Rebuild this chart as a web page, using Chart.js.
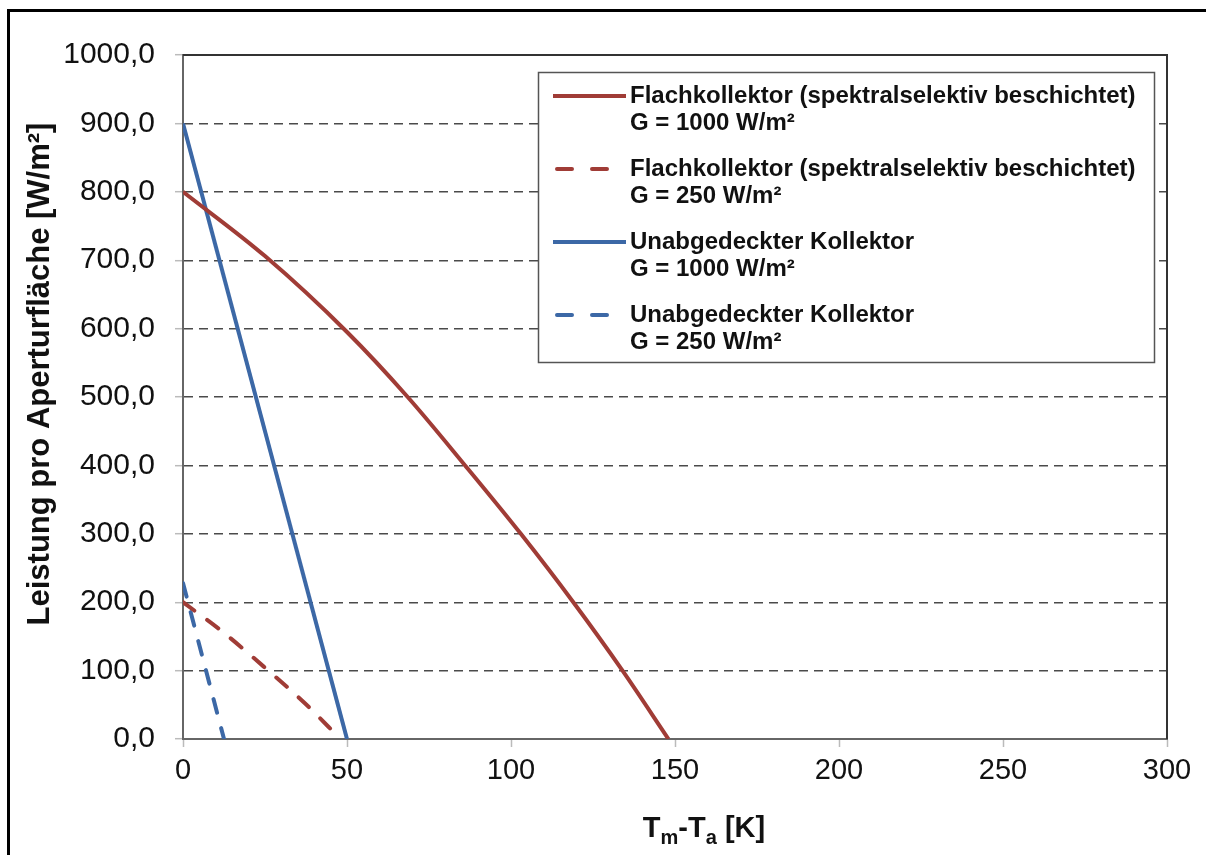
<!DOCTYPE html>
<html>
<head>
<meta charset="utf-8">
<script src="https://cdn.jsdelivr.net/npm/chart.js@4/dist/chart.umd.min.js"></script>
<style>
  html, body { margin: 0; padding: 0; background: #fff; }
  canvas { display: block; }
</style>
</head>
<body>
<canvas id="chart" width="1206" height="855"></canvas>
<script>
// values
const flachX1000 = [0, 25, 50, 68.5, 86, 103, 119, 134, 148];
const flachY1000 = [800, 706, 595, 500, 400, 300, 200, 100, 0];
const flachX250 = [0, 12, 26, 37, 48];
const flachY250 = [200, 157, 100, 53, 0];
const unabX1000 = [0, 50];
const unabY1000 = [900, 0];
const unabX250 = [0, 12.5];
const unabY250 = [228, 0];

const seriesNames = [
  ['Flachkollektor (spektralselektiv beschichtet)', 'G = 1000 W/m²'],
  ['Flachkollektor (spektralselektiv beschichtet)', 'G = 250 W/m²'],
  ['Unabgedeckter Kollektor', 'G = 1000 W/m²'],
  ['Unabgedeckter Kollektor', 'G = 250 W/m²']
];
const xTicks = [0, 50, 100, 150, 200, 250, 300];
const yTicks = [0, 100, 200, 300, 400, 500, 600, 700, 800, 900, 1000];

const RED = '#a03c36';
const BLUE = '#3c68a6';
const FONT = '"Liberation Sans", Arial, sans-serif';

const pts = (xs, ys) => xs.map((x, i) => ({ x, y: ys[i] }));

function ds(label, data, color, dashed) {
  return {
    label, data,
    borderColor: color,
    borderWidth: 4,
    borderDash: dashed ? [14, 16] : [],
    borderCapStyle: dashed ? 'round' : 'butt',
    pointRadius: 0,
    cubicInterpolationMode: 'monotone',
    fill: false
  };
}

const decorations = {
  id: 'decorations',
  afterDraw(chart) {
    const ctx = chart.ctx;
    const a = chart.chartArea;
    ctx.save();

    // top and right edge of the plot area
    ctx.strokeStyle = '#333';
    ctx.lineWidth = 2;
    ctx.beginPath();
    ctx.moveTo(a.left, a.top);
    ctx.lineTo(a.right, a.top);
    ctx.lineTo(a.right, a.bottom);
    ctx.stroke();

    // legend
    const lx = 538.5, ly = 72.5, lw = 616, lh = 290;
    ctx.fillStyle = '#fff';
    ctx.fillRect(lx, ly, lw, lh);
    ctx.strokeStyle = '#555';
    ctx.lineWidth = 1.5;
    ctx.strokeRect(lx, ly, lw, lh);
    ctx.font = 'bold 24px ' + FONT;
    ctx.fillStyle = '#111';
    ctx.textBaseline = 'middle';
    ctx.textAlign = 'left';
    chart.data.datasets.forEach((d, i) => {
      const y0 = 96 + i * 73;
      ctx.strokeStyle = d.borderColor;
      ctx.lineWidth = 4;
      ctx.lineCap = d.borderDash.length ? 'round' : 'butt';
      ctx.setLineDash(d.borderDash.length ? [15, 20] : []);
      ctx.beginPath();
      ctx.moveTo(d.borderDash.length ? 557 : 553, y0);
      ctx.lineTo(626, y0);
      ctx.stroke();
      ctx.setLineDash([]);
      ctx.fillText(seriesNames[i][0], 630, y0);
      ctx.fillText(seriesNames[i][1], 630, y0 + 27);
    });

    // y axis title
    ctx.save();
    ctx.translate(40, 374);
    ctx.rotate(-Math.PI / 2);
    ctx.font = 'bold 31px ' + FONT;
    ctx.textAlign = 'center';
    ctx.textBaseline = 'middle';
    ctx.fillText('Leistung pro Aperturfläche [W/m²]', 0, 0);
    ctx.restore();

    // x axis title with subscripts
    const big = 'bold 29px ' + FONT, small = 'bold 20px ' + FONT;
    const parts = [['T', big, 0], ['m', small, 7], ['-T', big, 0], ['a', small, 7], [' [K]', big, 0]];
    let w = 0;
    parts.forEach(p => { ctx.font = p[1]; w += ctx.measureText(p[0]).width; });
    let x = 704 - w / 2;
    ctx.textAlign = 'left';
    ctx.textBaseline = 'alphabetic';
    parts.forEach(p => {
      ctx.font = p[1];
      ctx.fillText(p[0], x, 837 + p[2]);
      x += ctx.measureText(p[0]).width;
    });

    // outer frame
    ctx.strokeStyle = '#000';
    ctx.lineWidth = 3;
    ctx.beginPath();
    ctx.moveTo(8.5, 855);
    ctx.lineTo(8.5, 10.5);
    ctx.lineTo(1206, 10.5);
    ctx.stroke();
    ctx.restore();
  }
};

new Chart(document.getElementById('chart'), {
  type: 'line',
  data: {
    datasets: [
      ds(seriesNames[0].join(' '), pts(flachX1000, flachY1000), RED, false),
      ds(seriesNames[1].join(' '), pts(flachX250, flachY250), RED, true),
      ds(seriesNames[2].join(' '), pts(unabX1000, unabY1000), BLUE, false),
      ds(seriesNames[3].join(' '), pts(unabX250, unabY250), BLUE, true)
    ]
  },
  options: {
    responsive: false,
    animation: false,
    devicePixelRatio: 1,
    layout: { padding: { left: 0, right: 39, top: 55, bottom: 0 } },
    plugins: { legend: { display: false }, tooltip: { enabled: false } },
    scales: {
      x: {
        type: 'linear',
        min: xTicks[0],
        max: xTicks[xTicks.length - 1],
        afterBuildTicks: s => { s.ticks = xTicks.map(v => ({ value: v })); },
        afterFit: s => { s.height = 116; },
        ticks: { font: { size: 29, family: FONT }, color: '#111', padding: 7, maxRotation: 0 },
        grid: { drawOnChartArea: false, drawTicks: true, tickLength: 8, tickColor: '#bbb', tickWidth: 1.5 },
        border: { color: '#666', width: 2 }
      },
      y: {
        min: yTicks[0],
        max: yTicks[yTicks.length - 1],
        afterBuildTicks: s => { s.ticks = yTicks.map(v => ({ value: v })); },
        afterFit: s => { s.width = 183; },
        ticks: {
          font: { size: 30, family: FONT }, color: '#111', padding: 20,
          callback: v => v.toFixed(1).replace('.', ',')
        },
        grid: {
          color: c => (c.tick && (c.tick.value === 0 || c.tick.value === 1000)) ? 'rgba(0,0,0,0)' : '#4a4a4a',
          lineWidth: 1.4,
          tickLength: 8, tickColor: '#bbb', tickWidth: 1.5
        },
        border: { color: '#666', width: 2, dash: [9, 6] }
      }
    }
  },
  plugins: [decorations]
});
</script>
</body>
</html>
